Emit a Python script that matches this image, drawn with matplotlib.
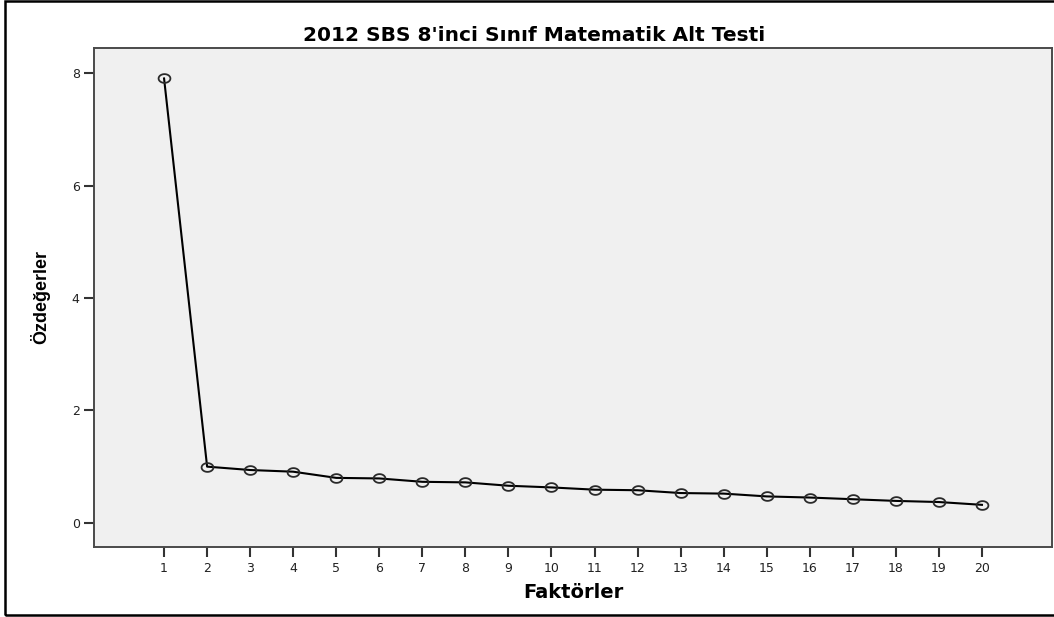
import numpy as np
import matplotlib
matplotlib.use("Agg")
import matplotlib.pyplot as plt
from matplotlib.path import Path
from matplotlib.patches import Rectangle

# Scree plot data (eigenvalues)
factors = list(range(1, 21))
eigenvalues = [7.91, 1.00, 0.94, 0.91, 0.80, 0.79, 0.73, 0.72, 0.66, 0.63,
               0.59, 0.58, 0.53, 0.52, 0.47, 0.45, 0.42, 0.39, 0.37, 0.32]
y_ticks = [0, 2, 4, 6, 8]

title = "2012 SBS 8'inci Sınıf Matematik Alt Testi"
x_label = "Faktörler"
y_label = "Özdeğerler"

# the SPSS export is stretched sideways, so the wider DejaVu face fits best
plt.rcParams['font.family'] = ['DejaVu Sans']

# slightly wide open circle, as in the SPSS output
t = np.linspace(0, 2 * np.pi, 60)
ellipse = Path(np.column_stack([1.35 * np.cos(t), np.sin(t)]), closed=True)

fig = plt.figure(figsize=(10.54, 6.17), dpi=100)
ax = fig.add_axes([0.0895, 0.1135, 0.9083, 0.8085])
ax.set_facecolor('#f0f0f0')

ax.plot(factors, eigenvalues, color='black', linewidth=1.5, zorder=2)
ax.plot(factors, eigenvalues, linestyle='none', marker=ellipse, markersize=8.5,
        markerfacecolor='none', markeredgecolor='#2a2a2a', markeredgewidth=1.3,
        zorder=3)

ax.set_xlim(-0.62, 21.62)
ax.set_ylim(-0.43, 8.45)
ax.set_xticks(factors)
ax.set_yticks(y_ticks)
ax.tick_params(direction='out', length=7.5, width=1.5, color='#333333',
               labelsize=9, labelcolor='#222222', pad=3)

for side in ['left', 'bottom', 'top', 'right']:
    ax.spines[side].set_color('#4a4a4a')
    ax.spines[side].set_linewidth(1.4)

ax.set_xlabel(x_label, fontsize=14, fontweight='bold', labelpad=6)
fig.text(40 / 1054, 1 - 297 / 617, y_label, rotation=90, fontsize=13,
         fontweight='bold', family=['Liberation Sans', 'DejaVu Sans'],
         ha='center', va='center')

fig.text(534 / 1054, 1 - 41 / 617, title, fontsize=14.5, fontweight='bold',
         ha='center', va='baseline')

# outer frame round the whole chart
fig.patches.append(Rectangle((5 / 1054, 2 / 617), 1.0, 1 - 3 / 617,
                             transform=fig.transFigure, fill=False,
                             edgecolor='black', linewidth=1.8))

fig.savefig("out.png", dpi=100)
